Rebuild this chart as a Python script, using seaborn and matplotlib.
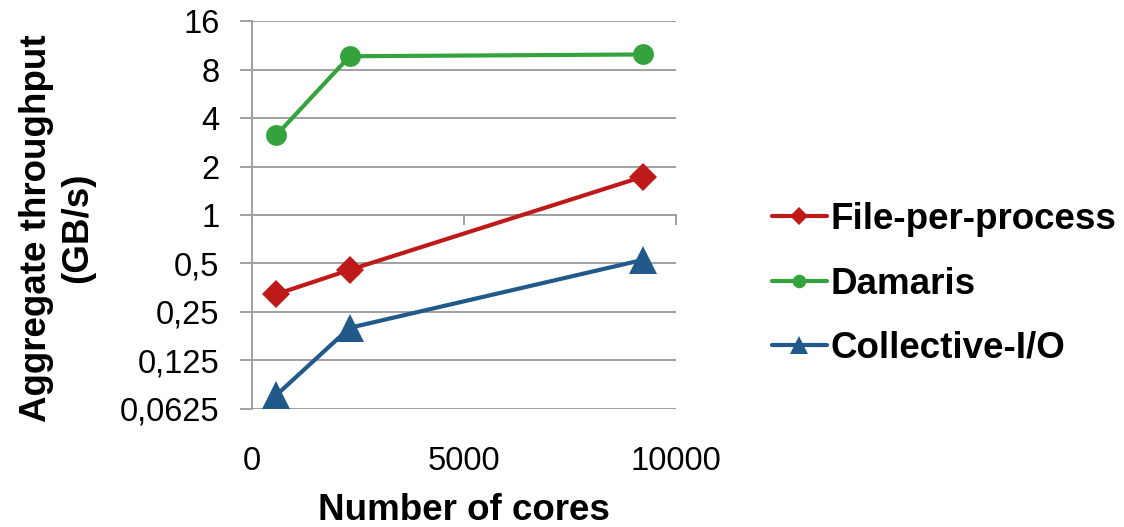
import matplotlib
matplotlib.use("Agg")
import matplotlib.pyplot as plt
import seaborn as sns
import pandas as pd

# Aggregate write throughput (GB/s) versus number of cores
cores = [576, 2304, 9216]
file_per_process = [0.322, 0.456, 1.73]
damaris = [3.14, 9.7, 9.95]
collective_io = [0.076, 0.199, 0.526]

series_names = ["File-per-process", "Damaris", "Collective-I/O"]
y_ticks = [0.0625, 0.125, 0.25, 0.5, 1, 2, 4, 8, 16]
y_tick_labels = ["0,0625", "0,125", "0,25", "0,5", "1", "2", "4", "8", "16"]
x_ticks = [0, 5000, 10000]
x_tick_labels = ["0", "5000", "10000"]

colors = {"File-per-process": "#BE1A1A", "Damaris": "#35A33D", "Collective-I/O": "#21598A"}
markers = {"File-per-process": "D", "Damaris": "o", "Collective-I/O": "^"}
msizes = {"File-per-process": 14.5, "Damaris": 15, "Collective-I/O": 20}

df = pd.DataFrame({
    "cores": cores * 3,
    "throughput": file_per_process + damaris + collective_io,
    "series": [s for s in series_names for _ in cores],
})

sns.set_theme(style="white")
plt.rcParams["font.family"] = ["Liberation Sans", "DejaVu Sans"]
plt.rcParams["text.color"] = "black"
plt.rcParams["axes.labelcolor"] = "black"

GRID = "#A0A0A0"
BOLD = 26.5
fig = plt.figure(figsize=(11.24, 5.27), dpi=100)
ax = fig.add_axes([252 / 1124, 1 - 409 / 527, 424 / 1124, 388 / 527])

for name in series_names:
    sub = df[df["series"] == name]
    sns.lineplot(data=sub, x="cores", y="throughput", ax=ax, color=colors[name],
                 marker=markers[name], markersize=msizes[name], markeredgewidth=0,
                 linewidth=3, label=name, zorder=3)

ax.set_yscale("log", base=2)
ax.set_ylim(0.0625 / 1.004, 16 * 1.004)
ax.set_xlim(0, 10000)
ax.set_yticks(y_ticks)
ax.set_yticklabels(y_tick_labels)
ax.minorticks_off()
ax.set_xticks(x_ticks)
ax.set_xticklabels(x_tick_labels)

ax.grid(axis="y", color=GRID, linewidth=1.4)
ax.grid(axis="x", visible=False)
for side in ("top", "right", "bottom"):
    ax.spines[side].set_visible(False)
ax.spines["left"].set_color(GRID)
ax.spines["left"].set_linewidth(1.4)

ax.tick_params(axis="y", direction="out", length=8.5, width=1.4, color=GRID,
               labelsize=23.5, labelcolor="black", pad=15, left=True)
ax.tick_params(axis="x", length=0, labelsize=23.5, labelcolor="black", pad=27)

# horizontal axis line crosses at 1 GB/s
sec = ax.secondary_xaxis(0.5)
sec.set_alignment("bottom")
sec.set_xticks(x_ticks)
sec.tick_params(axis="x", direction="out", length=7, width=1.4, color=GRID,
                labelbottom=False, labeltop=False)
for sp in sec.spines.values():
    sp.set_color(GRID)
    sp.set_linewidth(1.4)

ax.set_xlabel("Number of cores", fontsize=BOLD, fontweight="bold", labelpad=11)
ax.set_ylabel("")
fig.text(57 / 1124, 1 - 228 / 527, "Aggregate throughput\n(GB/s)", rotation=90,
         ha="center", va="center", fontsize=BOLD, fontweight="bold",
         multialignment="center", linespacing=1.2)

handles, labels = ax.get_legend_handles_labels()
ax.get_legend().remove()
fig.legend(handles, labels, loc="center left", bbox_to_anchor=(757 / 1124, 1 - 284 / 527),
           borderaxespad=0, frameon=False, prop={"size": BOLD, "weight": "bold"},
           markerscale=0.65, handlelength=1.5, handletextpad=0.1, labelspacing=0.8)

fig.savefig("out.png", dpi=100)
